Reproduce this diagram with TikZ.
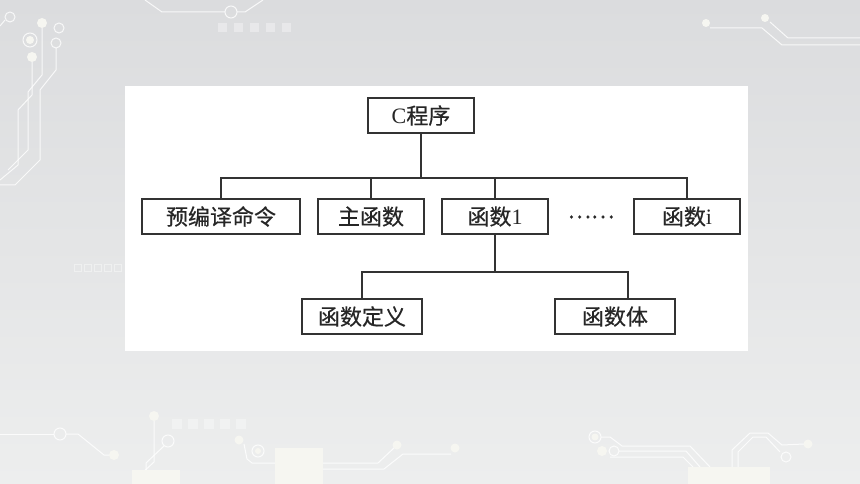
\documentclass[tikz,border=0pt]{standalone}
\usepackage{fontspec}
\setmainfont{Liberation Serif}
\newfontfamily\cjk[FakeBold=0.5]{Noto Sans CJK SC}
\usetikzlibrary{positioning}
\definecolor{boxline}{HTML}{333333}
\definecolor{bgtop}{HTML}{DBDCDE}
\definecolor{bgbottom}{HTML}{EDEEEE}
\definecolor{chip}{HTML}{F6F6F1}
\tikzset{block/.style={draw=boxline, line width=1.6pt, minimum width=106pt, minimum height=35pt, inner sep=0pt, font=\fontsize{22pt}{24pt}\selectfont, text=black!85},
conn/.style={draw=boxline, line width=1.6pt},
trace/.style={white, opacity=0.8, line width=1pt},
dot/.style={fill=chip}
}

\begin{document}
\begin{tikzpicture}[x=1pt, y=-1pt]
\useasboundingbox (0,0) rectangle (860,484);
\fill[top color=bgtop, bottom color=bgbottom] (0,0) rectangle (860,484);

% circuit traces in the background
\draw[trace] (145,0) -- (162,12) -- (225,12);
\draw[trace] (237,12) -- (245,12) -- (263,0);
\draw[trace] (231,12) circle (6pt);
\foreach \i in {0,...,4} \fill[white, opacity=0.35] (218+\i*16,23) rectangle ++(9,9);
\draw[trace] (10,17) circle (5pt);
\fill[dot] (42,23) circle (5pt);
\draw[trace] (30,40) circle (7pt); \fill[dot] (30,40) circle (4pt);
\fill[dot] (32,57) circle (5pt);
\draw[trace] (59,28) circle (5pt);
\draw[trace] (56,43) circle (5pt);
\draw[trace] (42,28) -- (42,75) -- (28,92) -- (28,150) -- (8,170);
\draw[trace] (32,62) -- (32,95) -- (18,110) -- (18,165) -- (0,180);
\draw[trace] (56,48) -- (56,70) -- (40,90) -- (40,160) -- (15,185) -- (0,185);
\draw[trace] (5,20) -- (0,26);
\foreach \i in {0,...,4} \draw[white, opacity=0.4] (74+\i*10,264) rectangle ++(7,7);

\fill[dot] (706,23) circle (4pt);
\draw[trace] (710,28) -- (762,28) -- (782,45) -- (860,45);
\fill[dot] (765,18) circle (4pt);
\draw[trace] (770,22) -- (788,38) -- (860,38);

\draw[trace] (0,434) -- (54,434);
\draw[trace] (60,434) circle (6pt);
\draw[trace] (66,434) -- (78,434) -- (104,455) -- (110,455);
\fill[dot] (114,455) circle (5pt);
\fill[dot] (154,416) circle (5pt);
\draw[trace] (154,421) -- (154,462) -- (140,475) -- (140,484);
\draw[trace] (168,441) circle (6pt);
\draw[trace] (164,446) -- (146,463) -- (146,484);
\foreach \i in {0,...,4} \fill[white, opacity=0.35] (172+\i*16,419) rectangle ++(10,10);
\fill[dot] (239,440) circle (4.5pt);
\draw[trace] (258,451) circle (6pt); \fill[dot] (258,451) circle (3pt);
\draw[trace] (244,444) -- (247,459) -- (252,463) -- (275,463);
\fill[chip] (132,470) rectangle (180,484);
\fill[chip] (275,448) rectangle (323,484);
\draw[trace] (323,463) -- (378,463) -- (395,447);
\fill[dot] (397,445) circle (4.5pt);
\draw[trace] (323,469) -- (384,469) -- (403,454) -- (451,454);
\fill[dot] (455,448) circle (4.5pt);

\draw[trace] (595,437) circle (6pt); \fill[dot] (595,437) circle (3.5pt);
\draw[trace] (601,437) -- (610,437) -- (622,446) -- (690,446) -- (710,467);
\fill[dot] (602,451) circle (5pt);
\draw[trace] (614,451) circle (5pt);
\draw[trace] (619,451) -- (686,451) -- (700,467);
\draw[trace] (610,457) -- (683,457) -- (693,467);
\fill[chip] (688,467) rectangle (770,484);
\draw[trace] (732,467) -- (732,450) -- (750,433) -- (768,433) -- (782,445) -- (804,444);
\fill[dot] (808,444) circle (4.5pt);
\draw[trace] (738,467) -- (738,452) -- (753,437) -- (766,437) -- (780,452);
\draw[trace] (786,457) circle (5pt);

% white panel
\fill[white] (125,86) rectangle (748,351);

% tree
\node[block] (prog) at (421,115.5) {C\cjk 程序};

\node[block, minimum width=158pt] (pre) at (221,216.5) {\cjk 预编译命令};
\node[block, right=16.4pt of pre] (main) {\cjk 主函数};
\node[block, right=16.4pt of main] (f1) {\cjk 函数\rmfamily 1};
\node[font=\fontsize{22pt}{24pt}\selectfont, text=black!85, inner sep=0pt] (dots) at (591,217) {\cjk ……};
\node[block] (fi) at (687,216.5) {\cjk 函数\rmfamily i};

\node[block, minimum width=120pt] (def) at (362,316.5) {\cjk 函数定义};
\node[block, minimum width=120pt] (body) at (615,316.5) {\cjk 函数体};

\coordinate (bus1) at (421,178);
\coordinate (bus2) at (495,272);

\draw[conn] (prog.south) -- (bus1);
\draw[conn] (pre.north) |- (fi.north |- bus1) -- (fi.north);
\draw[conn] (main.north) -- (main.north |- bus1);
\draw[conn] (f1.north) -- (f1.north |- bus1);

\draw[conn] (f1.south) -- (f1.south |- bus2);
\draw[conn] (def.north) |- ([xshift=13pt]body.north |- bus2) -- ([xshift=13pt]body.north);
\end{tikzpicture}
\end{document}
